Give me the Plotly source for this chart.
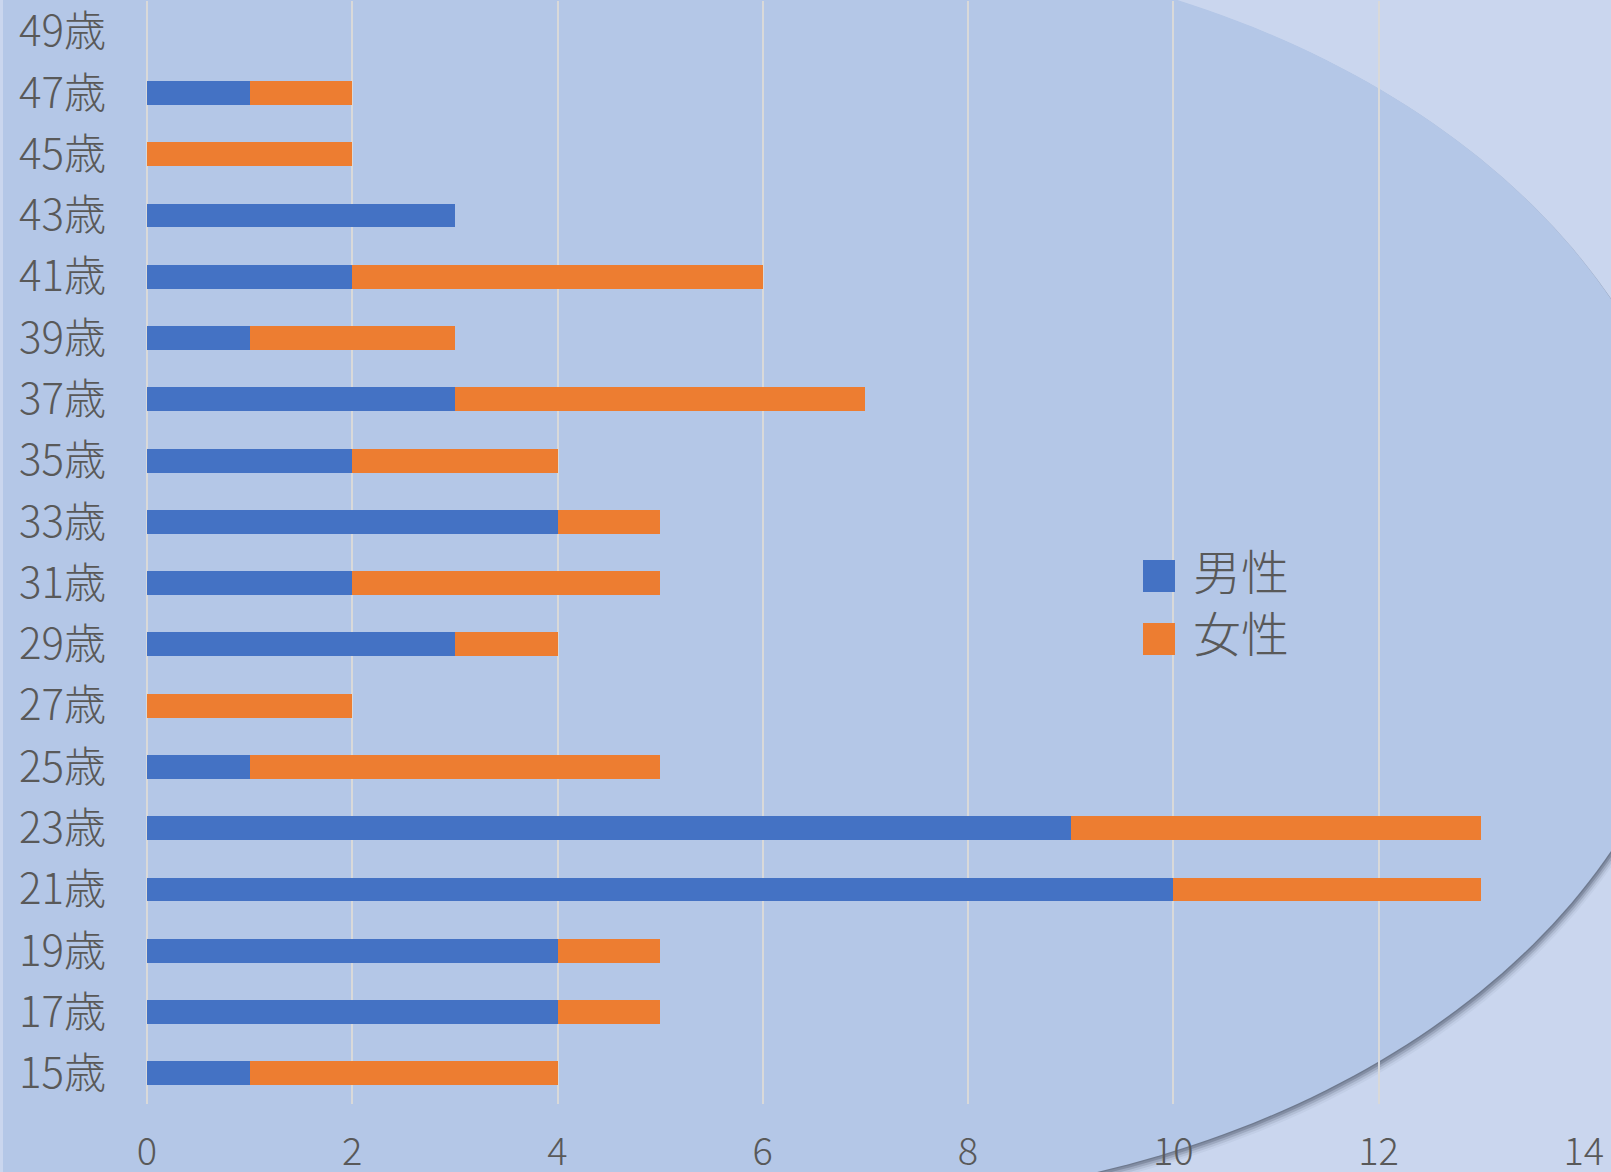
import math
import plotly.graph_objects as go

# ---- data ----
ages = ["15歳", "17歳", "19歳", "21歳", "23歳", "25歳", "27歳", "29歳", "31歳",
        "33歳", "35歳", "37歳", "39歳", "41歳", "43歳", "45歳", "47歳", "49歳"]
male = [1, 4, 4, 10, 9, 1, 0, 3, 2, 4, 2, 3, 1, 2, 3, 0, 1, 0]
female = [3, 1, 1, 3, 4, 4, 2, 1, 3, 1, 2, 4, 2, 4, 0, 2, 1, 0]
series_names = ["男性", "女性"]
series_colors = ["#4472C4", "#ED7D31"]
x_ticks = [0, 2, 4, 6, 8, 10, 12, 14]

# ---- layout geometry ----
W, H = 1611, 1172
L, R, T, B = 147, 27, 1, 68
PW, PH = W - L - R, H - T - B
FONT = "Noto Sans CJK JP"
TXT = "#595959"


def px(x):
    return (x - L) / PW


def py(y):
    return (H - B - y) / PH


fig = go.Figure()
for name, vals, col in zip(series_names, [male, female], series_colors):
    fig.add_trace(go.Bar(y=ages, x=vals, name=name, orientation="h",
                         marker=dict(color=col, line=dict(width=0)),
                         showlegend=False))

# background decoration: large ellipse-like panel with soft shadow
cx, cy, a, b = 826, 575, 874, 628


def panel_path(dx=0, dy=0):
    pts = []
    n = 160
    for i in range(n + 1):
        th = -math.pi / 2 + math.pi * i / n
        pts.append((cx + a * math.cos(th) + dx, cy + b * math.sin(th) + dy))
    pts.append((3 + dx, cy + b + dy))
    pts.append((3 + dx, cy - b + dy))
    s = "M " + " L ".join(f"{px(x):.5f},{py(y):.5f}" for x, y in pts) + " Z"
    return s


shapes = []
for (dx, dy, op) in [(5, 9, 0.06), (4, 7, 0.12), (3, 5, 0.2), (2, 3, 0.3), (1, 1, 0.3)]:
    shapes.append(dict(type="path", xref="paper", yref="paper", path=panel_path(dx, dy),
                       fillcolor=f"rgba(70,80,100,{op})", line=dict(width=0), layer="below"))
shapes.append(dict(type="path", xref="paper", yref="paper", path=panel_path(),
                   fillcolor="#B4C7E7", line=dict(width=0), layer="below"))

# manual legend
leg_y = [576, 639]
for col, yc in zip(series_colors, leg_y):
    shapes.append(dict(type="rect", xref="paper", yref="paper",
                       x0=px(1143), x1=px(1175), y0=py(yc - 16), y1=py(yc + 16),
                       fillcolor=col, line=dict(width=0), layer="above"))
annotations = [dict(xref="paper", yref="paper", x=px(1192), y=py(sum(leg_y) / 2 - 8),
                    xanchor="left", yanchor="middle", align="left",
                    text="<br>".join(series_names), showarrow=False,
                    font=dict(family=FONT, size=48, color=TXT, weight=300),
                    borderpad=0)]

fig.update_layout(
    width=W, height=H,
    margin=dict(l=L, r=R, t=T, b=B, autoexpand=False),
    paper_bgcolor="#CAD6EE",
    plot_bgcolor="rgba(0,0,0,0)",
    barmode="stack",
    bargap=0.61,
    shapes=shapes,
    annotations=annotations,
    font=dict(family=FONT, color=TXT),
    xaxis=dict(range=[0, 14.002], tickvals=x_ticks, ticktext=[str(v) for v in x_ticks],
               showgrid=True, gridcolor="#D9D9D9", gridwidth=1.5,
               zeroline=True, zerolinecolor="#D9D9D9", zerolinewidth=1.5,
               showline=False, ticks="", ticklabelstandoff=22,
               tickfont=dict(family=FONT, size=38, color=TXT, weight=300)),
    yaxis=dict(categoryorder="array", categoryarray=ages, showgrid=False,
               zeroline=False, showline=False, ticks="", ticklabelstandoff=40,
               tickfont=dict(family=FONT, size=42, color=TXT, weight=300)),
)

fig.write_html("out.html", config={"displayModeBar": False},
               post_script="document.body.style.margin='0';document.body.style.overflow='hidden';")
